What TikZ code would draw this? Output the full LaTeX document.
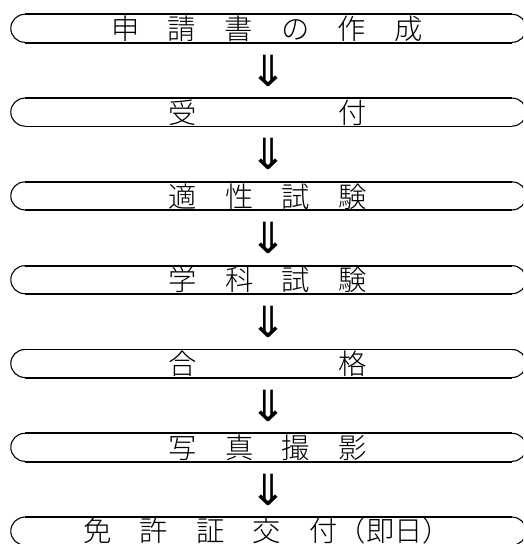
\documentclass[tikz,border=0pt]{standalone}
\usepackage{fontspec}
\newfontfamily\jp{Noto Sans CJK JP Light}
\newfontfamily\symb{DejaVu Sans}
\usetikzlibrary{calc}
\begin{document}
\begin{tikzpicture}[x=1pt,y=1pt,
  stage/.style={minimum width=515pt, minimum height=28pt, inner sep=0pt, draw=none},
  stagetext/.style={anchor=base, inner sep=0pt, font=\jp\fontsize{28.3}{30}\selectfont},
  arrowglyph/.style={inner sep=0pt, xscale=1.05, font=\symb\fontsize{43}{45}\selectfont},
  sideline/.style={line width=1.8pt},
  endarc/.style={line width=1.1pt}]
\useasboundingbox (0,0) rectangle (523,-544);
\clip (0,0) rectangle (523,-544);
\node[stage] (b1) at (268.5,-28.5) {};
\node[stage] (b2) at (268.5,-112.3) {};
\node[stage] (b3) at (268.5,-196.1) {};
\node[stage] (b4) at (268.5,-279.9) {};
\node[stage] (b5) at (268.5,-363.7) {};
\node[stage] (b6) at (268.5,-447.5) {};
\node[stage] (b7) at (268.5,-531.3) {};
\foreach \n in {b1,b2,b3,b4,b5,b6,b7} {
  \draw[sideline] ([xshift=14pt]\n.north west) -- ([xshift=-14pt]\n.north east);
  \draw[sideline] ([xshift=14pt]\n.south west) -- ([xshift=-14pt]\n.south east);
  \draw[endarc] ([xshift=14pt]\n.north west) arc[start angle=90,end angle=270,radius=14pt];
  \draw[endarc] ([xshift=-14pt]\n.north east) arc[start angle=90,end angle=-90,radius=14pt];
}
\node[stagetext] (t1) at ($(b1.center)+(-1.5,-11)$) {申　請　書　の　作　成};
\node[stagetext] (t2) at ($(b2.center)+(-1,-11)$) {受　　　　　付};
\node[stagetext] (t3) at ($(b3.center)+(-1,-11)$) {適　性　試　験};
\node[stagetext] (t4) at ($(b4.center)+(-1,-11)$) {学　科　試　験};
\node[stagetext] (t5) at ($(b5.center)+(-1,-11)$) {合　　　　　格};
\node[stagetext] (t6) at ($(b6.center)+(-1,-11)$) {写　真　撮　影};
\node[stagetext] (t7) at ($(b7.center)+(-1.5,-10.5)$) {免　許　証　交　付（即日）};
\node[arrowglyph] (a1) at ($(b1)!0.5!(b2)$) {⇓};
\node[arrowglyph] (a2) at ($(b2)!0.5!(b3)$) {⇓};
\node[arrowglyph] (a3) at ($(b3)!0.5!(b4)$) {⇓};
\node[arrowglyph] (a4) at ($(b4)!0.5!(b5)$) {⇓};
\node[arrowglyph] (a5) at ($(b5)!0.5!(b6)$) {⇓};
\node[arrowglyph] (a6) at ($(b6)!0.5!(b7)$) {⇓};
\end{tikzpicture}
\end{document}
